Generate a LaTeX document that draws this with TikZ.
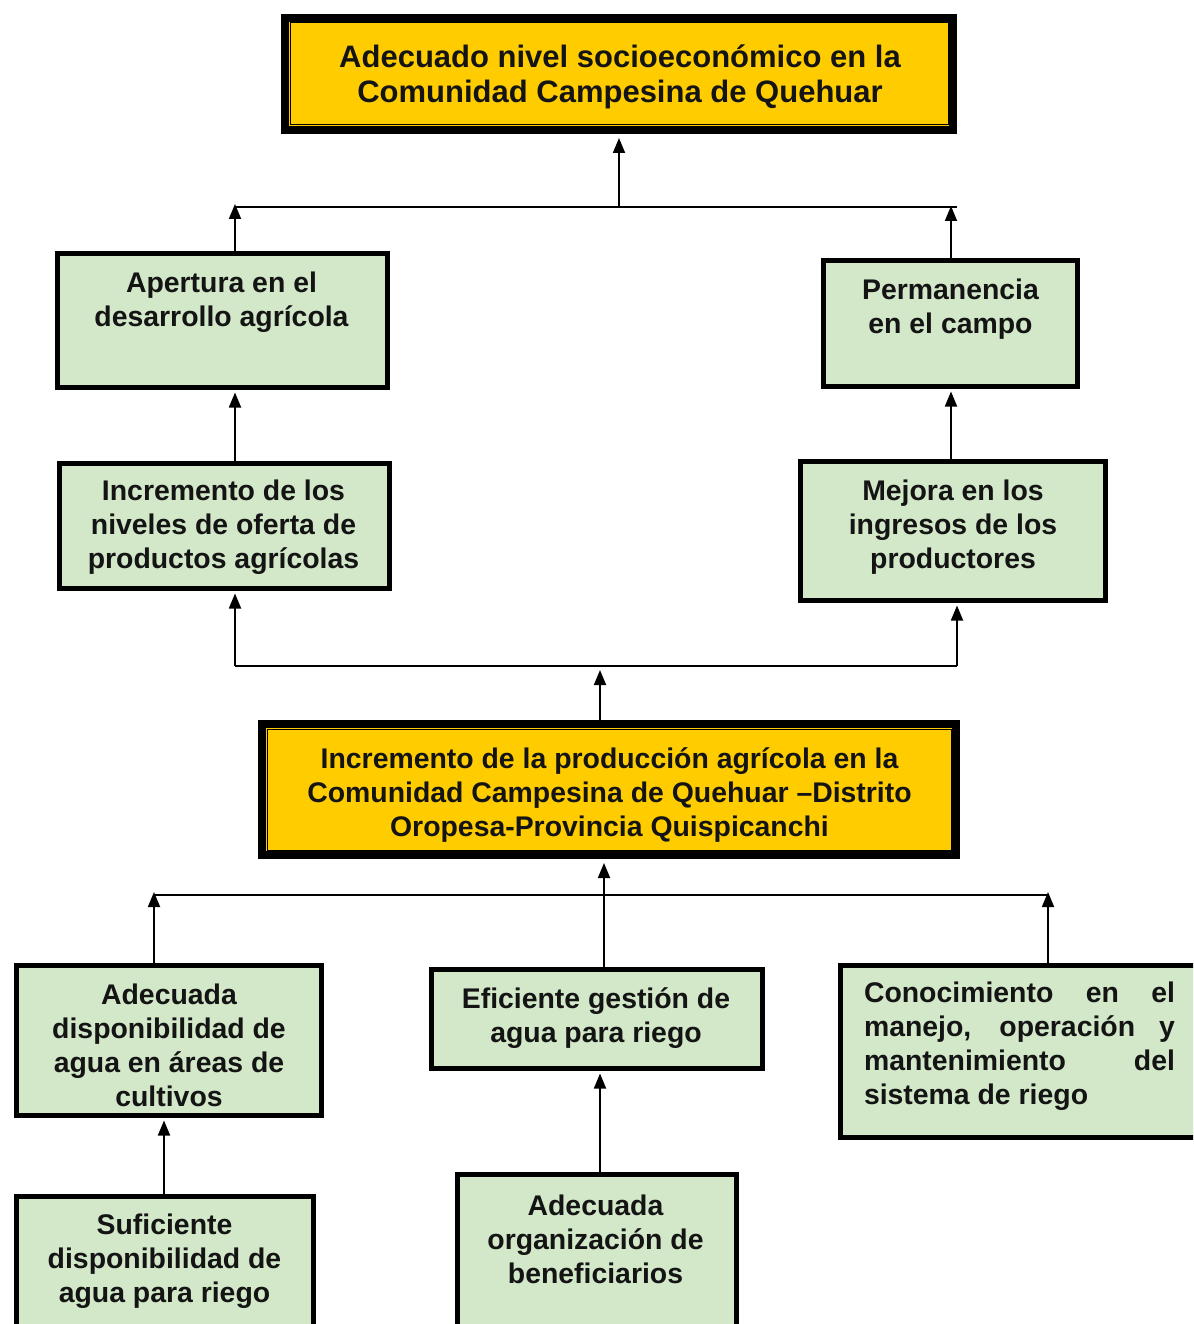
\documentclass[tikz,border=0pt]{standalone}
\usepackage{fontspec}
\setmainfont{Liberation Sans}
\usetikzlibrary{arrows.meta}
\definecolor{gfill}{RGB}{210,232,200}
\definecolor{yfill}{RGB}{255,204,0}
\begin{document}
\begin{tikzpicture}[x=1pt,y=-1pt,
  gbox/.style={draw=black, line width=5pt, fill=gfill, rectangle, inner sep=0pt},
  ybox/.style={draw=black, line width=8pt, fill=yfill, rectangle, inner sep=0pt},
  txt/.style={align=center, inner sep=0pt, font=\fontsize{28.4}{34}\selectfont\bfseries, text=black!92},
  bigtxt/.style={txt, font=\fontsize{31}{35}\selectfont\bfseries},
  ln/.style={line width=1.8pt},
  arr/.style={line width=1.8pt, -{Triangle[length=15pt,width=12pt]}},
  thin/.style={draw=black, line width=1pt}]
\useasboundingbox (0,0) rectangle (1193,1324);
\clip (0,0) rectangle (1193,1324);
\fill[white] (0,0) rectangle (1193,1324);

% yellow boxes
\node[ybox, minimum width=668pt, minimum height=112pt] (top) at (619,74) {};
\draw[thin] ([shift={(6,6)}]top.north west) rectangle ([shift={(-6,-6)}]top.south east);
\draw[thin] ([shift={(9,9)}]top.north west) rectangle ([shift={(-9,-9)}]top.south east);
\node[ybox, minimum width=694pt, minimum height=131pt] (mid) at (609,789.5) {};
\draw[thin] ([shift={(6,6)}]mid.north west) rectangle ([shift={(-6,-6)}]mid.south east);
\draw[thin] ([shift={(9,9)}]mid.north west) rectangle ([shift={(-9,-9)}]mid.south east);

% green boxes
\node[gbox, minimum width=330pt, minimum height=134pt] (ap) at (222.5,320.5) {};
\node[gbox, minimum width=254pt, minimum height=126pt] (pe) at (950.5,323.5) {};
\node[gbox, minimum width=330pt, minimum height=125pt] (inc) at (224.5,526) {};
\node[gbox, minimum width=305pt, minimum height=139pt] (mej) at (953,531) {};
\node[gbox, minimum width=305pt, minimum height=150pt] (adq) at (169,1040.5) {};
\node[gbox, minimum width=331pt, minimum height=99pt] (efi) at (597,1019) {};
\node[gbox, minimum width=372pt, minimum height=172pt] (con) at (1026.5,1051.5) {};
\node[gbox, minimum width=297pt, minimum height=146pt] (suf) at (165,1269.5) {};
\node[gbox, minimum width=279pt, minimum height=168pt] (org) at (597,1258.5) {};

% texts
\node[bigtxt] (toptx) at (620,76.5) {Adecuado nivel socioeconómico en la\\Comunidad Campesina de Quehuar};
\node[txt] (midtx) at (609.5,795) {Incremento de la producción agrícola en la\\Comunidad Campesina de Quehuar –Distrito\\Oropesa-Provincia Quispicanchi};
\node[txt] (aptx) at (221.5,302.5) {Apertura en el\\desarrollo agrícola};
\node[txt] (petx) at (950.5,309) {Permanencia\\en el campo};
\node[txt] (inctx) at (223.5,527.5) {Incremento de los\\niveles de oferta de\\productos agrícolas};
\node[txt] (mejtx) at (953,527.5) {Mejora en los\\ingresos de los\\productores};
\node[txt] (adqtx) at (169,1045.5) {Adecuada\\disponibilidad de\\agua en áreas de\\cultivos};
\node[txt] (efitx) at (596,1018) {Eficiente gestión de\\agua para riego};
\node[txt, align=left] (contx) at (1019.5,1046.5) {\makebox[311pt][s]{Conocimiento en el}\\\makebox[311pt][s]{manejo, operación y}\\\makebox[311pt][s]{mantenimiento del}\\sistema de riego};
\node[txt] (suftx) at (164.5,1261) {Suficiente\\disponibilidad de\\agua para riego};
\node[txt] (orgtx) at (595.5,1239) {Adecuada\\organización de\\beneficiarios};

% helper coordinates
\coordinate (xa) at (235,0);
\coordinate (xb) at (951,0);
\coordinate (xc) at (957,0);
\coordinate (xd) at (600,0);
\coordinate (xe) at (604,0);
\coordinate (xf) at (154,0);
\coordinate (xg) at (1048,0);
\coordinate (xh) at (164,0);
\coordinate (xt) at (619,0);
\coordinate (h1l) at (235,207);
\coordinate (h1r) at (957,207);
\coordinate (h2l) at (235,666);
\coordinate (h2r) at (957,666);
\coordinate (h3l) at (154,895);
\coordinate (h3r) at (1048,895);
\coordinate (t1a) at (235,204);
\coordinate (t1b) at (951,206);
\coordinate (t2) at (600,670);
\coordinate (t3l) at (154,892);
\coordinate (t3r) at (1048,892);

% connectors
\draw[ln] (h1l) -- (h1r);
\draw[arr, shorten >=4pt] (h1l -| xt) -- (top.south -| xt);
\draw[arr] (ap.north -| xa) -- (t1a);
\draw[arr] (pe.north -| xb) -- (t1b);
\draw[arr, shorten >=2.5pt] (inc.north -| xa) -- (ap.south -| xa);
\draw[arr, shorten >=2.5pt] (mej.north -| xb) -- (pe.south -| xb);
\draw[ln] (h2l) -- (h2r);
\draw[arr, shorten >=2.5pt] (h2l) -- (inc.south -| xa);
\draw[arr, shorten >=2.5pt] (h2r) -- (mej.south -| xc);
\draw[arr] (mid.north -| xd) -- (t2);
\draw[ln] (h3l) -- (h3r);
\draw[arr] (adq.north -| xf) -- (t3l);
\draw[arr] (con.north -| xg) -- (t3r);
\draw[arr, shorten >=4pt] (efi.north -| xe) -- (mid.south -| xe);
\draw[arr, shorten >=2.5pt] (suf.north -| xh) -- (adq.south -| xh);
\draw[arr, shorten >=2.5pt] (org.north -| xd) -- (efi.south -| xd);
\end{tikzpicture}
\end{document}
